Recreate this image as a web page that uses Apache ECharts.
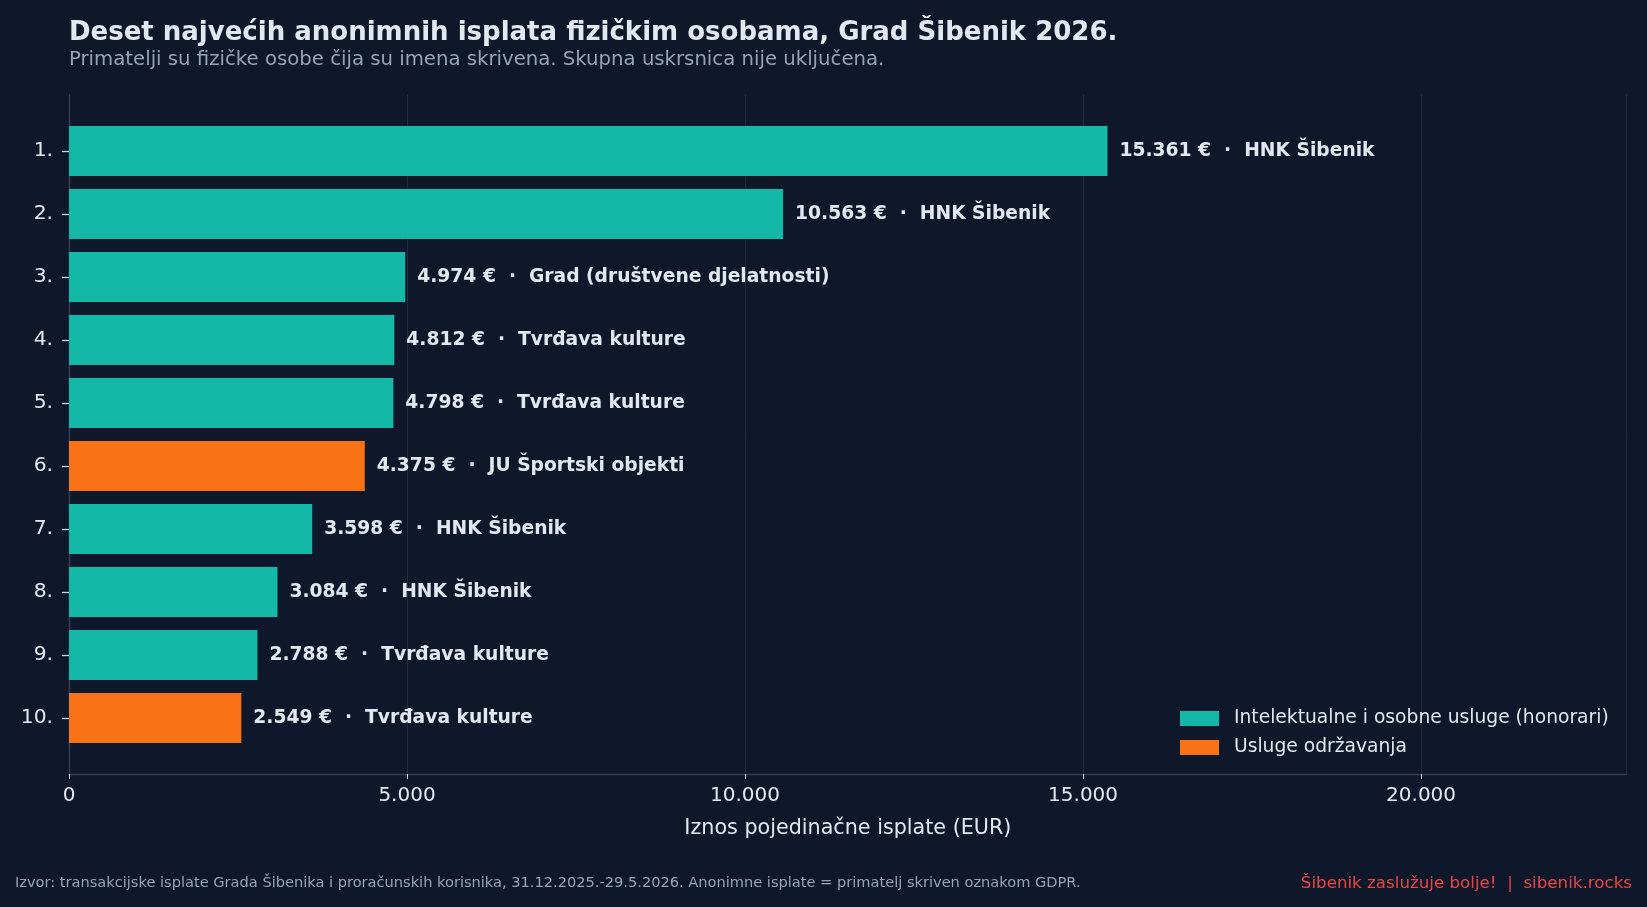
<!DOCTYPE html>
<html>
<head>
<meta charset="utf-8">
<script src="https://cdn.jsdelivr.net/npm/echarts@6/dist/echarts.min.js"></script>
<style>
html,body{margin:0;padding:0;background:#0f172a;}
#chart{width:1647px;height:907px;}
</style>
</head>
<body>
<div id="chart"></div>
<script>
const categories = ['1.', '2.', '3.', '4.', '5.', '6.', '7.', '8.', '9.', '10.'];
const amounts = [15361, 10563, 4974, 4812, 4798, 4375, 3598, 3084, 2788, 2549];
const payers = ['HNK Šibenik', 'HNK Šibenik', 'Grad (društvene djelatnosti)', 'Tvrđava kulture', 'Tvrđava kulture',
                'JU Športski objekti', 'HNK Šibenik', 'HNK Šibenik', 'Tvrđava kulture', 'Tvrđava kulture'];
const types = ['hon', 'hon', 'hon', 'hon', 'hon', 'odr', 'hon', 'hon', 'hon', 'odr'];
const seriesNames = {hon: 'Intelektualne i osobne usluge (honorari)', odr: 'Usluge održavanja'};
const xTicks = [0, 5000, 10000, 15000, 20000];

const FONT = 'DejaVu Sans';
const fmt = v => String(v).replace(/\B(?=(\d{3})+(?!\d))/g, '.');
const xMax = Math.max(...amounts) * 1.5;

function seriesData(key) {
  return amounts.map((v, i) => types[i] === key ? v : null);
}

const labelCfg = {
  show: true, position: 'right', distance: 12,
  color: '#e2e8f0', fontFamily: FONT, fontWeight: 'bold', fontSize: 18.7,
  formatter: p => fmt(p.value) + ' €  ·  ' + payers[p.dataIndex]
};

const chart = echarts.init(document.getElementById('chart'), null, {renderer: 'canvas'});
chart.setOption({
  backgroundColor: '#0f172a',
  animation: false,
  grid: [
    {left: 69, right: 20.3, top: 94.5, bottom: 133, containLabel: false},
    {left: 69, right: 20.3, top: 119.5, height: 630, containLabel: false}
  ],
  xAxis: [
    {
      gridIndex: 0, type: 'value', min: 0, max: xMax, interval: 5000,
      axisLine: {show: true, lineStyle: {color: '#334155', width: 1.3}},
      axisTick: {show: true, length: 5, lineStyle: {color: '#cbd5e1', width: 1}},
      axisLabel: {
        color: '#e2e8f0', fontFamily: FONT, fontSize: 20, margin: 12,
        showMaxLabel: false,
        formatter: v => xTicks.includes(v) ? fmt(v) : ''
      },
      splitLine: {show: true, lineStyle: {color: '#222c3e', width: 1}},
      name: 'Iznos pojedinačne isplate (EUR)', nameLocation: 'middle', nameGap: 44,
      nameTextStyle: {color: '#e2e8f0', fontFamily: FONT, fontSize: 20.7}
    },
    {gridIndex: 1, type: 'value', min: 0, max: xMax, show: false}
  ],
  yAxis: [
    {
      gridIndex: 0, type: 'value', min: 0, max: 1,
      axisLine: {show: true, lineStyle: {color: '#334155', width: 1.3}},
      axisTick: {show: false}, axisLabel: {show: false}, splitLine: {show: false}
    },
    {
      gridIndex: 1, type: 'category', data: categories, inverse: true, show: true,
      axisLine: {show: true, lineStyle: {color: '#334155', width: 1.3}},
      axisTick: {show: true, inside: false, alignWithLabel: true, interval: 0, length: 7,
                 lineStyle: {color: '#cbd5e1', width: 1.3}},
      axisLabel: {show: true, interval: 0, color: '#e2e8f0', fontFamily: FONT, fontSize: 20.3, margin: 16},
      splitLine: {show: false}
    }
  ],
  legend: {
    orient: 'vertical', left: 1175, top: 704,
    itemWidth: 39, itemHeight: 15, itemGap: 10,
    icon: 'rect',
    textStyle: {color: '#e2e8f0', fontFamily: FONT, fontSize: 18.7, lineHeight: 19, padding: [0, 0, 0, 10]},
    data: [seriesNames.hon, seriesNames.odr]
  },
  series: [
    {
      name: seriesNames.hon, type: 'bar', xAxisIndex: 1, yAxisIndex: 1,
      data: seriesData('hon'), barWidth: 50, barGap: '-100%',
      itemStyle: {color: '#14b8a6'}, label: labelCfg
    },
    {
      name: seriesNames.odr, type: 'bar', xAxisIndex: 1, yAxisIndex: 1,
      data: seriesData('odr'), barWidth: 50, barGap: '-100%',
      itemStyle: {color: '#f97316'}, label: labelCfg
    }
  ],
  graphic: [
    {type: 'text', left: 69, top: 20, style: {
      text: 'Deset najvećih anonimnih isplata fizičkim osobama, Grad Šibenik 2026.',
      fill: '#e2e8f0', font: 'bold 26px "DejaVu Sans"'}},
    {type: 'text', left: 69, top: 50, style: {
      text: 'Primatelji su fizičke osobe čija su imena skrivena. Skupna uskrsnica nije uključena.',
      fill: '#94a3b8', font: '19.7px "DejaVu Sans"'}},
    {type: 'text', left: 15, top: 876, style: {
      text: 'Izvor: transakcijske isplate Grada Šibenika i proračunskih korisnika, 31.12.2025.-29.5.2026. Anonimne isplate = primatelj skriven oznakom GDPR.',
      fill: '#94a3b8', font: '14.6px "DejaVu Sans"'}},
    {type: 'text', right: 15, top: 875, style: {
      text: 'Šibenik zaslužuje bolje!  |  sibenik.rocks',
      fill: '#ef4444', font: '16.7px "DejaVu Sans"'}}
  ]
});
</script>
</body>
</html>
